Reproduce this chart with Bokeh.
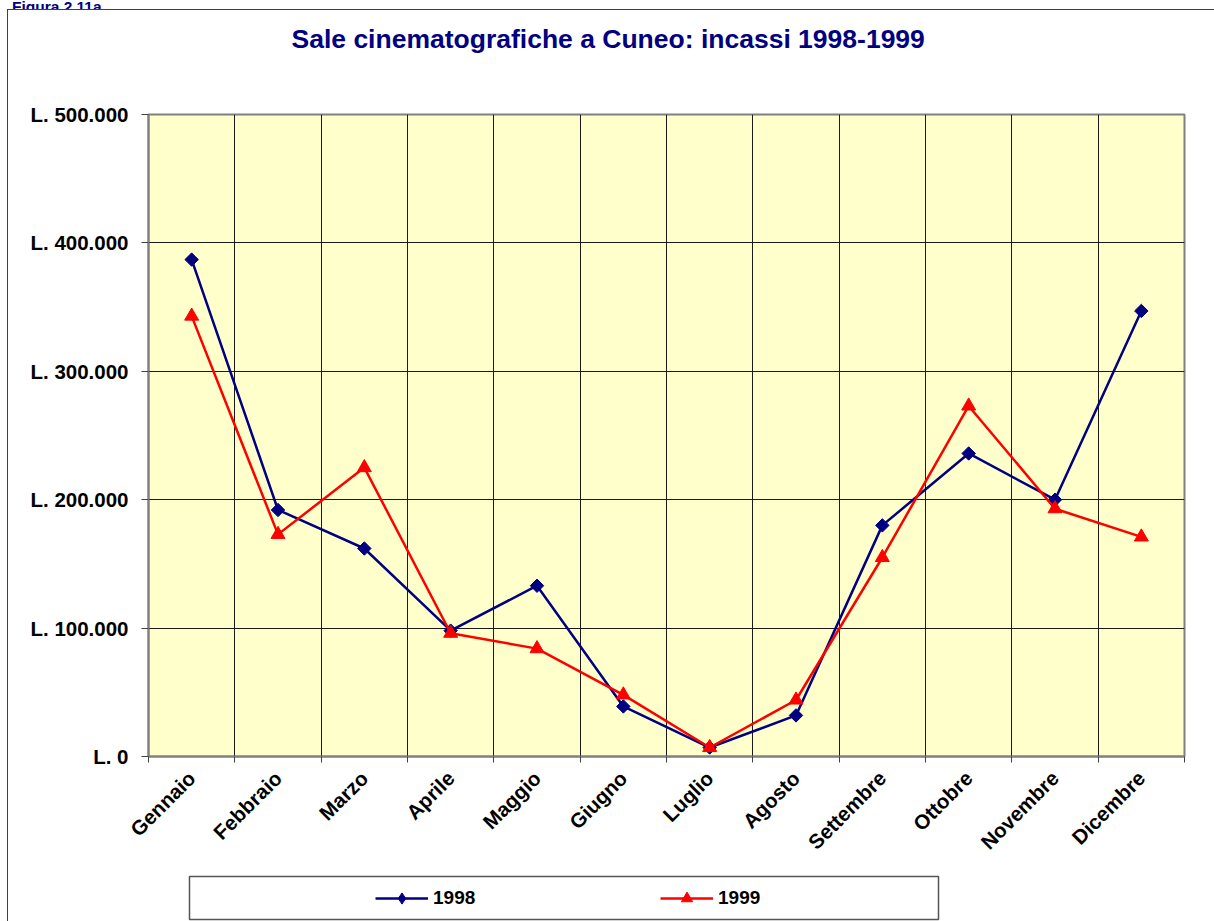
import math
from bokeh.plotting import figure
from bokeh.models import FixedTicker, Div, Spacer, Title
from bokeh.layouts import column, row
from bokeh.embed import file_html
from bokeh.resources import INLINE

# ---- data ----
months = ["Gennaio", "Febbraio", "Marzo", "Aprile", "Maggio", "Giugno",
          "Luglio", "Agosto", "Settembre", "Ottobre", "Novembre", "Dicembre"]
incassi_1998 = [387000, 192000, 162000, 98000, 133000, 39000,
                7000, 32000, 180000, 236000, 200000, 347000]
incassi_1999 = [343000, 173000, 225000, 96000, 84000, 48000,
                7000, 44000, 155000, 273000, 193000, 171000]
y_ticks = [0, 100000, 200000, 300000, 400000, 500000]
y_tick_labels = ["L. 0", "L. 100.000", "L. 200.000", "L. 300.000", "L. 400.000", "L. 500.000"]
title_text = "Sale cinematografiche a Cuneo: incassi 1998-1999"
figure_label = "Figura 2.11a"
series_names = ["1998", "1999"]

FONT = "Liberation Sans"
NAVY = "#000080"
RED = "#FF0000"
W = 1206                      # inside the outer border
FL, FT, FW, FH = 140, 104, 1036, 642
H_MAIN = 856
H_LEG = 55

n = len(months)
xs = [i + 0.5 for i in range(n)]

p = figure(width=W, height=H_MAIN, output_backend="svg", toolbar_location=None,
           x_range=(0, n), y_range=(0, 500000),
           min_border_left=FL, min_border_top=FT,
           min_border_right=W - FL - FW, min_border_bottom=H_MAIN - FT - FH,
           frame_width=FW, frame_height=FH)
p.background_fill_color = "#FFFFCC"
p.border_fill_color = "white"
p.outline_line_color = "#808080"
p.outline_line_width = 2

p.title.text = title_text
p.title.align = "left"
p.title.offset = 143
p.title.standoff = 0
p.title.text_font = FONT
p.title.text_font_style = "bold"
p.title.text_font_size = "26.5px"
p.title.text_color = NAVY
# blank spacer between the title and the plot area
p.add_layout(Title(text=" ", text_font_size="10px", standoff=48), "above")

# x axis
p.xaxis.ticker = FixedTicker(ticks=xs, minor_ticks=list(range(n + 1)))
p.xaxis.major_label_overrides = {x: m for x, m in zip(xs, months)}
p.xaxis.major_label_orientation = math.pi / 4
p.xaxis.major_tick_out = 0
p.xaxis.major_tick_in = 0
p.xaxis.minor_tick_out = 6
p.xaxis.minor_tick_in = 0
p.xaxis.minor_tick_line_color = "#404040"
p.xaxis.axis_line_color = "#808080"
p.xaxis.axis_line_width = 2
p.xaxis.major_label_standoff = 12
p.xaxis.major_label_text_font = FONT
p.xaxis.major_label_text_font_style = "bold"
p.xaxis.major_label_text_font_size = "20.5px"
p.xaxis.major_label_text_color = "black"

# y axis
p.yaxis.ticker = FixedTicker(ticks=y_ticks)
p.yaxis.major_label_overrides = {t: l for t, l in zip(y_ticks, y_tick_labels)}
p.yaxis.major_tick_out = 7
p.yaxis.major_tick_in = 0
p.yaxis.minor_tick_out = 0
p.yaxis.minor_tick_in = 0
p.yaxis.major_tick_line_color = "#404040"
p.yaxis.axis_line_color = "#808080"
p.yaxis.axis_line_width = 2
p.yaxis.major_label_standoff = 13
p.yaxis.major_label_text_font = FONT
p.yaxis.major_label_text_font_style = "bold"
p.yaxis.major_label_text_font_size = "20.5px"
p.yaxis.major_label_text_color = "black"

# grids
p.xgrid.ticker = FixedTicker(ticks=list(range(1, n)))
p.xgrid.grid_line_color = "#1a1a1a"
p.ygrid.grid_line_color = "#1a1a1a"


def draw_series(fig, legend=False):
    kw1 = dict(legend_label=series_names[0]) if legend else {}
    kw2 = dict(legend_label=series_names[1]) if legend else {}
    fig.line(xs, incassi_1998, line_color=NAVY, line_width=2.5, **kw1)
    if legend:
        fig.scatter(xs, incassi_1998, marker="diamond", size=12,
                    fill_color=NAVY, line_color=NAVY, **kw1)
    else:
        fig.scatter(xs, incassi_1998, marker="square", size=9.5, angle=math.pi / 4,
                    fill_color=NAVY, line_color=NAVY)
    fig.line(xs, incassi_1999, line_color=RED, line_width=2.5, **kw2)
    fig.scatter(xs, incassi_1999, marker="triangle", size=14,
                fill_color=RED, line_color=RED, **kw2)


draw_series(p)

# ---- legend box (separate small figure; its series lie outside its view) ----
SHIFT = 41
LW, LT, LH = 749, 10, 43
QW = W - SHIFT
q = figure(width=QW, height=H_LEG, output_backend="svg", toolbar_location=None,
           x_range=(-100, -99), y_range=(0, 500000),
           x_axis_location=None, y_axis_location=None,
           min_border_left=FL, min_border_right=QW - FL - LW,
           min_border_top=LT, min_border_bottom=H_LEG - LT - LH,
           frame_width=LW, frame_height=LH)
q.grid.visible = False
q.background_fill_color = "white"
q.border_fill_color = "white"
q.outline_line_color = "#555555"
q.outline_line_width = 1.5
draw_series(q, legend=True)
leg = q.legend[0]
leg.orientation = "horizontal"
leg.location = (186, 7)
leg.padding = 0
leg.margin = 0
leg.spacing = 127
leg.glyph_width = 53
leg.glyph_height = 28
leg.label_width = 100
leg.label_standoff = 5
leg.label_text_font = FONT
leg.label_text_font_style = "bold"
leg.label_text_font_size = "19px"
leg.label_text_color = "black"
leg.border_line_color = None
leg.background_fill_alpha = 0

# ---- "Figura" label (cut at the top as in the original) and outer frame ----
fig_div = Div(text=('<div style="font: bold 15.5px \'Liberation Sans\', Arial, sans-serif; '
                    'color:#000080; line-height:18px; margin-top:-11px; margin-left:12px; '
                    'white-space:nowrap">' + figure_label + '</div>'),
              width=200, height=9, margin=0, styles={"overflow": "hidden"})

legend_row = row(Spacer(width=SHIFT, height=H_LEG, margin=0), q, spacing=0, margin=0)
box = column(p, legend_row, spacing=0, margin=0,
             styles={"border-left": "1px solid #404040", "border-top": "1px solid #404040",
                     "margin-left": "7px"})
root = column(fig_div, box, spacing=0, margin=0)

open("out.html", "w").write(file_html(root, INLINE))
